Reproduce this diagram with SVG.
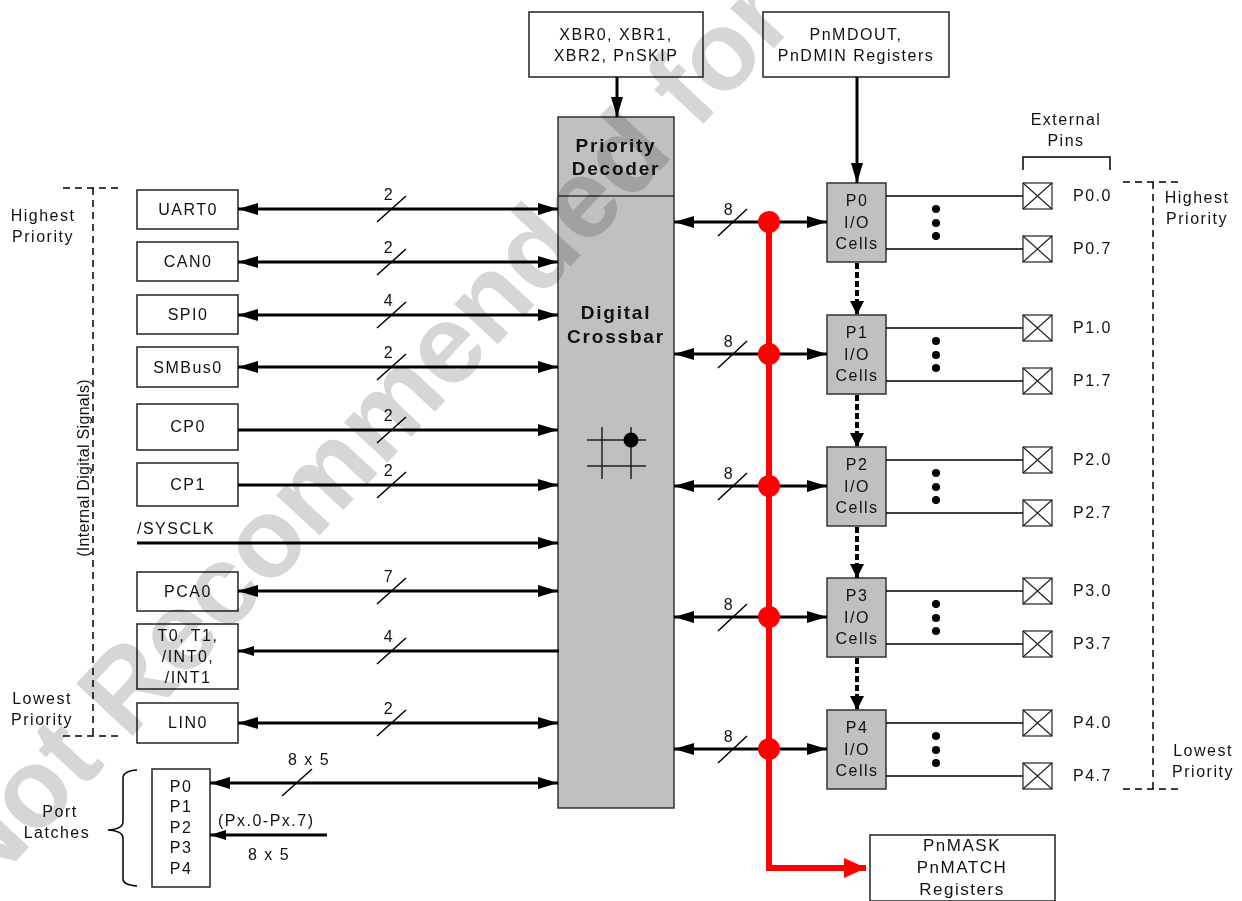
<svg xmlns="http://www.w3.org/2000/svg" width="1242" height="901" viewBox="0 0 1242 901">
<style>
text{font-family:"Liberation Sans",Arial,sans-serif;font-size:16px;letter-spacing:1.5px;fill:#111}
.c{text-anchor:middle}
.b{font-weight:bold;font-size:19px;letter-spacing:1.8px}
.box{fill:#fff;stroke:#222;stroke-width:1.5}
.gbox{fill:#c0c0c0;stroke:#333;stroke-width:1.5}
.ln{stroke:#000;stroke-width:3;fill:none}
.thin{stroke:#000;stroke-width:1.5;fill:none}
.dash{stroke:#000;stroke-width:1.5;fill:none;stroke-dasharray:7 5}
.dot{stroke:#000;stroke-width:4;fill:none;stroke-dasharray:6 3}
.sl{stroke:#000;stroke-width:1.5}
.red{stroke:#ff0000;stroke-width:6;fill:none}
</style>
<defs>
<marker id="ah" viewBox="0 0 20 12" refX="20" refY="6" markerWidth="20" markerHeight="12" markerUnits="userSpaceOnUse" orient="auto-start-reverse"><path d="M0,0L20,6L0,12z" fill="#000"/></marker>
<marker id="ahs" viewBox="0 0 16 10" refX="16" refY="5" markerWidth="16" markerHeight="10" markerUnits="userSpaceOnUse" orient="auto-start-reverse"><path d="M0,0L16,5L0,10z" fill="#000"/></marker>
<marker id="ahd" viewBox="0 0 14 14" refX="14" refY="7" markerWidth="14" markerHeight="14" markerUnits="userSpaceOnUse" orient="auto"><path d="M0,0L14,7L0,14z" fill="#000"/></marker>
<marker id="ahr" viewBox="0 0 22 20" refX="22" refY="10" markerWidth="22" markerHeight="20" markerUnits="userSpaceOnUse" orient="auto"><path d="M0,0L22,10L0,20z" fill="#ff0000"/></marker>
<g id="pin"><rect x="0" y="-13" width="29" height="26" fill="#fff" stroke="#222" stroke-width="1.2"/><path d="M0,-13L29,13M0,13L29,-13" stroke="#222" stroke-width="1.2"/></g>
</defs>
<rect width="1242" height="901" fill="#fff"/>

<!-- priority brackets -->
<g id="left-priority">
<path class="dash" d="M63,188H123M93,188V736M63,736H123"/>
<text class="c" x="43" y="221">Highest</text>
<text class="c" x="43" y="242">Priority</text>
<text class="c" x="42" y="704">Lowest</text>
<text class="c" x="42" y="725">Priority</text>
<text class="c" transform="translate(89,468) rotate(-90)" style="letter-spacing:0.3px">(Internal Digital Signals)</text>
</g>
<g id="right-priority">
<path class="dash" d="M1123,182H1183M1153,182V789M1123,789H1183"/>
<text class="c" x="1197" y="203">Highest</text>
<text class="c" x="1197" y="224">Priority</text>
<text class="c" x="1203" y="756">Lowest</text>
<text class="c" x="1203" y="777">Priority</text>
</g>

<!-- left nodes -->
<g id="uart0"><rect class="box" x="137" y="190" width="101" height="39"/><text class="c" x="188" y="215">UART0</text></g>
<g id="can0"><rect class="box" x="137" y="242" width="101" height="39"/><text class="c" x="188" y="267">CAN0</text></g>
<g id="spi0"><rect class="box" x="137" y="295" width="101" height="39"/><text class="c" x="188" y="320">SPI0</text></g>
<g id="smbus0"><rect class="box" x="137" y="347" width="101" height="40"/><text class="c" x="188" y="373">SMBus0</text></g>
<g id="cp0"><rect class="box" x="137" y="404" width="101" height="46"/><text class="c" x="188" y="432">CP0</text></g>
<g id="cp1"><rect class="box" x="137" y="463" width="101" height="43"/><text class="c" x="188" y="490">CP1</text></g>
<g id="sysclk"><text x="137" y="534">/SYSCLK</text></g>
<g id="pca0"><rect class="box" x="137" y="572" width="101" height="39"/><text class="c" x="188" y="597">PCA0</text></g>
<g id="timers"><rect class="box" x="137" y="624" width="101" height="65"/><text class="c" x="188" y="641">T0, T1,</text><text class="c" x="188" y="662">/INT0,</text><text class="c" x="188" y="683">/INT1</text></g>
<g id="lin0"><rect class="box" x="137" y="703" width="101" height="40"/><text class="c" x="188" y="728">LIN0</text></g>
<g id="port-latches">
<rect class="box" x="152" y="769" width="58" height="118"/>
<text class="c" x="181" y="792">P0</text><text class="c" x="181" y="812">P1</text><text class="c" x="181" y="833">P2</text><text class="c" x="181" y="853">P3</text><text class="c" x="181" y="874">P4</text>
<path class="thin" stroke-width="1.2" d="M137,770Q123,771 123,778V822Q123,829 108,830Q123,831 123,838V879Q123,885 137,886"/>
<text class="c" x="60" y="817">Port</text><text class="c" x="57" y="838">Latches</text>
</g>

<!-- top registers -->
<g id="xbr"><rect class="box" x="529" y="12" width="174" height="65"/><text class="c" x="616" y="40">XBR0, XBR1,</text><text class="c" x="616" y="61">XBR2, PnSKIP</text></g>
<g id="pnmdout"><rect class="box" x="763" y="12" width="186" height="65"/><text class="c" x="856" y="40">PnMDOUT,</text><text class="c" x="856" y="61">PnDMIN Registers</text></g>

<!-- crossbar -->
<g id="crossbar">
<rect class="gbox" x="558" y="117" width="116" height="691"/>
<line x1="558" y1="196" x2="674" y2="196" stroke="#333" stroke-width="1.5"/>
<text class="c b" x="616" y="152">Priority</text>
<text class="c b" x="616" y="175">Decoder</text>
<text class="c b" x="616" y="319">Digital</text>
<text class="c b" x="616" y="343">Crossbar</text>
<path stroke="#222" stroke-width="1.5" d="M587,440H646M587,466H646M602,427V479M631,427V479"/>
<circle cx="631" cy="440" r="7.5" fill="#000"/>
</g>

<!-- IO cells -->
<g id="p0cells"><rect class="gbox" x="827" y="183" width="59" height="79"/><text class="c" x="857" y="206">P0</text><text class="c" x="857" y="228">I/O</text><text class="c" x="857" y="249">Cells</text></g>
<g id="p1cells"><rect class="gbox" x="827" y="315" width="59" height="79"/><text class="c" x="857" y="338">P1</text><text class="c" x="857" y="360">I/O</text><text class="c" x="857" y="381">Cells</text></g>
<g id="p2cells"><rect class="gbox" x="827" y="447" width="59" height="79"/><text class="c" x="857" y="470">P2</text><text class="c" x="857" y="492">I/O</text><text class="c" x="857" y="513">Cells</text></g>
<g id="p3cells"><rect class="gbox" x="827" y="578" width="59" height="79"/><text class="c" x="857" y="601">P3</text><text class="c" x="857" y="623">I/O</text><text class="c" x="857" y="644">Cells</text></g>
<g id="p4cells"><rect class="gbox" x="827" y="710" width="59" height="79"/><text class="c" x="857" y="733">P4</text><text class="c" x="857" y="755">I/O</text><text class="c" x="857" y="776">Cells</text></g>

<g id="pnmask"><rect class="box" x="870" y="835" width="185" height="66"/><text class="c" x="962" y="851" style="font-size:17px">PnMASK</text><text class="c" x="962" y="873" style="font-size:17px">PnMATCH</text><text class="c" x="962" y="895" style="font-size:17px">Registers</text></g>

<!-- external pins -->
<g id="external-pins">
<path class="thin" stroke-width="1.2" d="M1023,170V157H1110V170"/>
<text class="c" x="1066" y="125">External</text><text class="c" x="1066" y="146">Pins</text>
<g id="pins-p0"><path class="thin" d="M886,196H1023M886,249H1023"/><use href="#pin" x="1023" y="196"/><use href="#pin" x="1023" y="249"/><circle cx="936" cy="209" r="4"/><circle cx="936" cy="223" r="4"/><circle cx="936" cy="236" r="4"/><text x="1073" y="201">P0.0</text><text x="1073" y="254">P0.7</text></g>
<g id="pins-p1"><path class="thin" d="M886,328H1023M886,381H1023"/><use href="#pin" x="1023" y="328"/><use href="#pin" x="1023" y="381"/><circle cx="936" cy="341" r="4"/><circle cx="936" cy="355" r="4"/><circle cx="936" cy="368" r="4"/><text x="1073" y="333">P1.0</text><text x="1073" y="386">P1.7</text></g>
<g id="pins-p2"><path class="thin" d="M886,460H1023M886,513H1023"/><use href="#pin" x="1023" y="460"/><use href="#pin" x="1023" y="513"/><circle cx="936" cy="473" r="4"/><circle cx="936" cy="487" r="4"/><circle cx="936" cy="500" r="4"/><text x="1073" y="465">P2.0</text><text x="1073" y="518">P2.7</text></g>
<g id="pins-p3"><path class="thin" d="M886,591H1023M886,644H1023"/><use href="#pin" x="1023" y="591"/><use href="#pin" x="1023" y="644"/><circle cx="936" cy="604" r="4"/><circle cx="936" cy="618" r="4"/><circle cx="936" cy="631" r="4"/><text x="1073" y="596">P3.0</text><text x="1073" y="649">P3.7</text></g>
<g id="pins-p4"><path class="thin" d="M886,723H1023M886,776H1023"/><use href="#pin" x="1023" y="723"/><use href="#pin" x="1023" y="776"/><circle cx="936" cy="736" r="4"/><circle cx="936" cy="750" r="4"/><circle cx="936" cy="763" r="4"/><text x="1073" y="728">P4.0</text><text x="1073" y="781">P4.7</text></g>
</g>

<!-- connectors -->
<g id="connectors">
<line class="ln" x1="238" y1="209" x2="558" y2="209" marker-start="url(#ah)" marker-end="url(#ah)"/>
<line class="ln" x1="238" y1="262" x2="558" y2="262" marker-start="url(#ah)" marker-end="url(#ah)"/>
<line class="ln" x1="238" y1="315" x2="558" y2="315" marker-start="url(#ah)" marker-end="url(#ah)"/>
<line class="ln" x1="238" y1="367" x2="558" y2="367" marker-start="url(#ah)" marker-end="url(#ah)"/>
<line class="ln" x1="238" y1="430" x2="558" y2="430" marker-end="url(#ah)"/>
<line class="ln" x1="238" y1="485" x2="558" y2="485" marker-end="url(#ah)"/>
<line class="ln" x1="137" y1="543" x2="558" y2="543" marker-end="url(#ah)"/>
<line class="ln" x1="238" y1="591" x2="558" y2="591" marker-start="url(#ah)" marker-end="url(#ah)"/>
<line class="ln" stroke-width="2.5" x1="559" y1="651" x2="238" y2="651" marker-end="url(#ahs)"/>
<line class="ln" x1="238" y1="723" x2="558" y2="723" marker-start="url(#ah)" marker-end="url(#ah)"/>
<line class="ln" x1="210" y1="783" x2="558" y2="783" marker-start="url(#ah)" marker-end="url(#ah)"/>
<line class="ln" stroke-width="2.5" x1="327" y1="835" x2="210" y2="835" marker-end="url(#ahs)"/>
<g id="bus-labels">
<path class="sl" d="M377,222L406,196M377,275L406,249M377,328L406,302M377,380L406,354M377,443L406,417M377,498L406,472M377,604L406,578M377,664L406,638M377,736L406,710M282,796L312,769"/>
<text class="c" x="389" y="200">2</text><text class="c" x="389" y="253">2</text><text class="c" x="389" y="306">4</text><text class="c" x="389" y="358">2</text><text class="c" x="389" y="421">2</text><text class="c" x="389" y="476">2</text><text class="c" x="389" y="582">7</text><text class="c" x="389" y="642">4</text><text class="c" x="389" y="714">2</text>
<text class="c" x="309" y="765">8 x 5</text>
<text x="218" y="826">(Px.0-Px.7)</text>
<text class="c" x="269" y="860">8 x 5</text>
</g>
<line class="ln" x1="617" y1="77" x2="617" y2="117" marker-end="url(#ah)"/>
<line class="ln" x1="857" y1="77" x2="857" y2="183" marker-end="url(#ah)"/>
<g id="port-buses">
<line class="ln" x1="674" y1="222" x2="827" y2="222" marker-start="url(#ah)" marker-end="url(#ah)"/>
<line class="ln" x1="674" y1="354" x2="827" y2="354" marker-start="url(#ah)" marker-end="url(#ah)"/>
<line class="ln" x1="674" y1="486" x2="827" y2="486" marker-start="url(#ah)" marker-end="url(#ah)"/>
<line class="ln" x1="674" y1="617" x2="827" y2="617" marker-start="url(#ah)" marker-end="url(#ah)"/>
<line class="ln" x1="674" y1="749" x2="827" y2="749" marker-start="url(#ah)" marker-end="url(#ah)"/>
<path class="sl" d="M718,236L747,209M718,368L747,341M718,500L747,473M718,631L747,604M718,763L747,736"/>
<text class="c" x="729" y="215">8</text><text class="c" x="729" y="347">8</text><text class="c" x="729" y="479">8</text><text class="c" x="729" y="610">8</text><text class="c" x="729" y="742">8</text>
</g>
<g id="priority-chain">
<line class="dot" x1="857" y1="263" x2="857" y2="315" marker-end="url(#ahd)"/>
<line class="dot" x1="857" y1="395" x2="857" y2="447" marker-end="url(#ahd)"/>
<line class="dot" x1="857" y1="527" x2="857" y2="578" marker-end="url(#ahd)"/>
<line class="dot" x1="857" y1="658" x2="857" y2="710" marker-end="url(#ahd)"/>
</g>
<g id="red-bus">
<path class="red" d="M769,222V868H866" marker-end="url(#ahr)"/>
<g fill="#ff0000"><circle cx="769" cy="222" r="11"/><circle cx="769" cy="354" r="11"/><circle cx="769" cy="486" r="11"/><circle cx="769" cy="617" r="11"/><circle cx="769" cy="749" r="11"/></g>
</g>
</g>

<g id="watermark" style="mix-blend-mode:multiply">
<text transform="translate(155,712) rotate(-47)" x="-258" style="font-size:112px;font-weight:bold;letter-spacing:0;fill:#d6d6d6">Not Recommended for New Designs</text>
</g>
</svg>
